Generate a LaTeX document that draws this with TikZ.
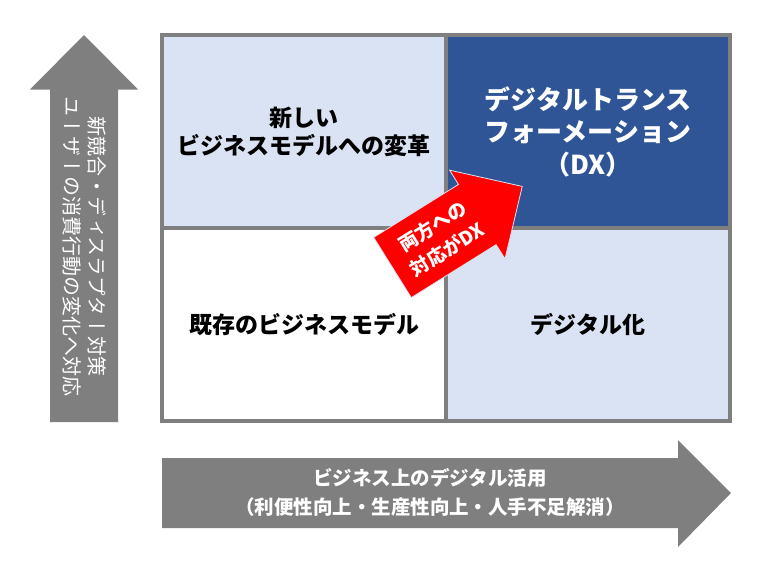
\documentclass[tikz,border=0pt]{standalone}
\usepackage{fontspec}
\setmainfont{Noto Sans CJK JP}
\newfontfamily\tatefont{Noto Sans CJK JP}[Vertical=RotatedGlyphs]
\usetikzlibrary{calc,positioning}
\definecolor{lightcell}{HTML}{DAE3F3}
\definecolor{darkcell}{HTML}{2F5597}
\definecolor{framegray}{HTML}{7F7F7F}
\definecolor{arrowgray}{HTML}{7F7F7F}

\begin{document}
\begin{tikzpicture}[x=1pt,y=-1pt,
  cell/.style={minimum width=284pt,minimum height=193pt,inner sep=0pt,outer sep=0pt,align=center,font=\bfseries\fontsize{23}{28}\selectfont},
  arrowtext/.style={text=white,align=center,inner sep=0pt},
  frame/.style={draw=framegray,line width=4pt}]
\useasboundingbox (0,0) rectangle (772,563);

	%Cases
    \node[cell,fill=lightcell] (nouveau) at (304,131.5) {新しい\\ビジネスモデルへの変革};
    \node[cell,fill=darkcell,text=white,font=\bfseries\fontsize{26}{32.5}\selectfont,right = 0pt of nouveau] (dx) {デジタルトランス\\フォーメーション\\（DX）};
    \node[cell,fill=white,below = 0pt of nouveau] (existant) {既存のビジネスモデル};
    \node[cell,fill=lightcell,below = 0pt of dx] (digital) {デジタル化};

	%Cadre
    \draw[frame] (nouveau.north west) rectangle (digital.south east);
    \draw[frame,line width=3.5pt] (nouveau.north east) -- (existant.south east);
    \draw[frame,line width=3.5pt] (nouveau.south west) -- (dx.south east);

	%Fleche verticale
    \fill[arrowgray] (50,422) -- (50,89.5) -- (30,89.5) -- (84,35) -- (138,89.5) -- (118,89.5) -- (118,422) -- cycle;
    \node[arrowtext,rotate=-90,font=\tatefont\fontsize{20}{25.6}\selectfont] (usager) at (84.5,246) {新競合・ディスラプター対策\\ユーザーの消費行動の変化へ対応};

	%Fleche horizontale
    \fill[arrowgray] (162,458) -- (678,458) -- (678,440) -- (731,493) -- (678,547) -- (678,528) -- (162,528) -- cycle;
    \node[arrowtext,font=\bfseries\fontsize{19.5}{29}\selectfont] (usage) at (430,492.5) {ビジネス上のデジタル活用\\（利便性向上・生産性向上・人手不足解消）};

	%Fleche rouge
    \begin{scope}[shift={(392.5,267.5)},rotate=32]
    \filldraw[fill=red,draw=lightcell,line width=0.8pt] (0,-35.5) -- (100,-35.5) -- (100,-52.3) -- (153,0) -- (100,52.3) -- (100,35.5) -- (0,35.5) -- cycle;
    \node[arrowtext,transform shape,font=\bfseries\fontsize{19}{27}\selectfont] (deux) at (56,0) {両方への\\対応がDX};
    \end{scope}

\end{tikzpicture}
\end{document}
